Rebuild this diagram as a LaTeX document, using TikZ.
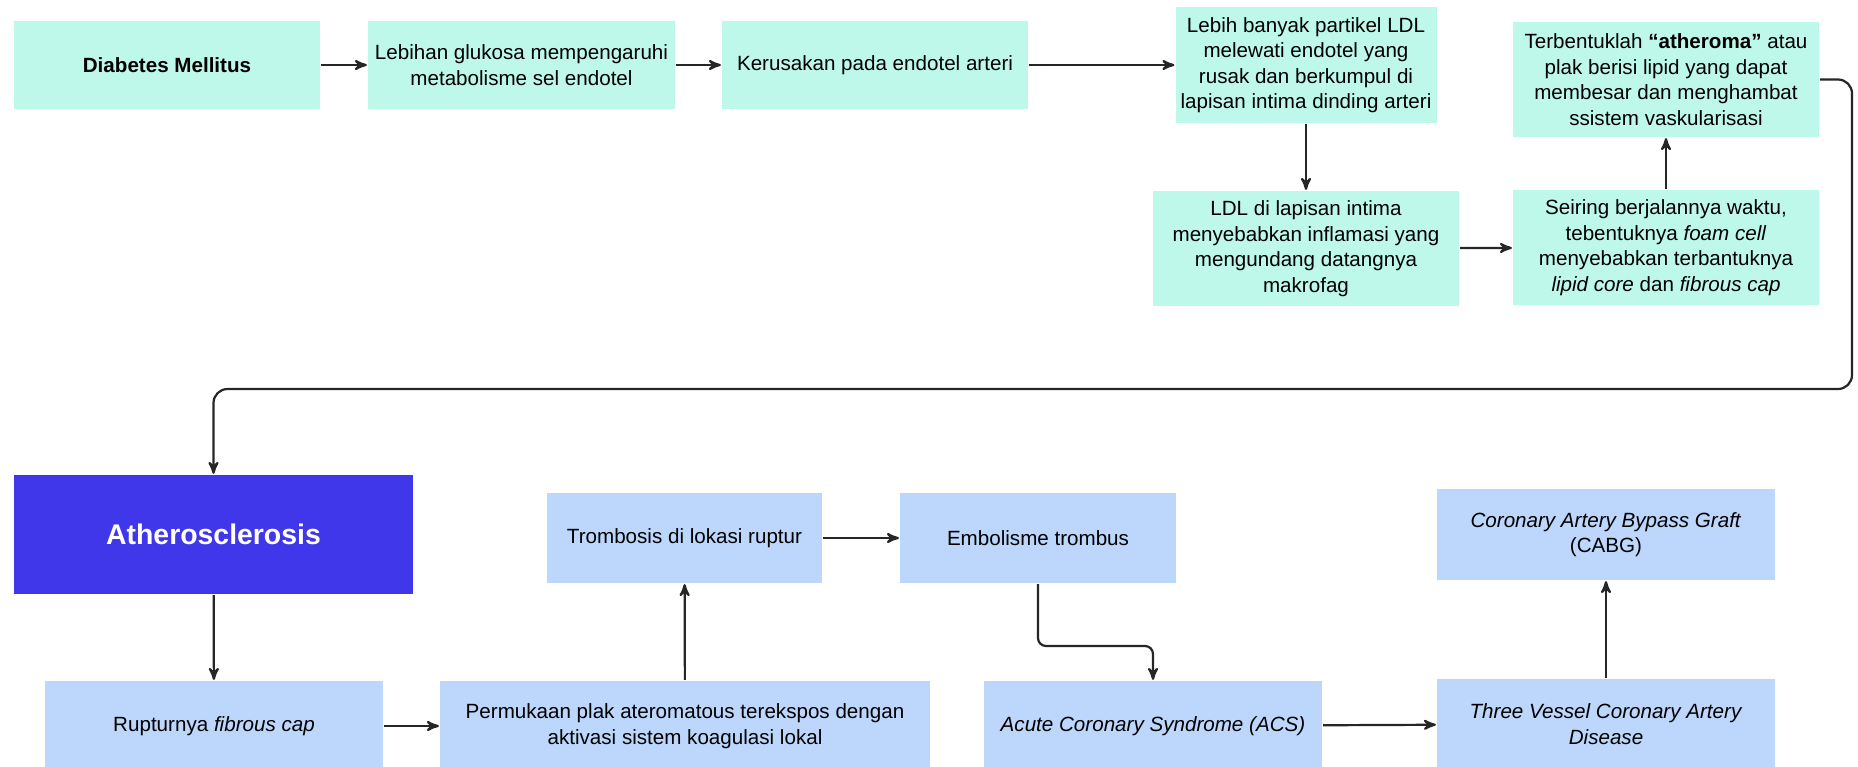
\documentclass[tikz,border=0pt]{standalone}
\usepackage{fontspec}
\setmainfont{Liberation Sans}
\usepackage{tikz}
\usetikzlibrary{arrows}

\definecolor{mint}{HTML}{BEF8EA}
\definecolor{paleblue}{HTML}{BCD6FC}
\definecolor{deepblue}{HTML}{4037EB}
\definecolor{inkgray}{HTML}{262626}

\begin{document}
\begin{tikzpicture}[x=0.5pt,y=-0.5pt,->,>=stealth',shorten >=0pt,line width=1.1pt,draw=inkgray,
    font=\fontsize{10.3}{12.75}\selectfont]
  \tikzstyle{box}=[rectangle,draw=none,inner sep=0pt,align=center,text=black]
  \tikzstyle{mintbox}=[box,fill=mint]
  \tikzstyle{bluebox}=[box,fill=paleblue]
  \useasboundingbox (0,0) rectangle (1858,766);

  % upper chain
  \node[mintbox,minimum width=153pt,minimum height=44pt] (dm) at (167,65) {\textbf{Diabetes Mellitus}};
  \node[mintbox,minimum width=153.5pt,minimum height=44pt] (lg) at (521.5,65) {Lebihan glukosa mempengaruhi\\metabolisme sel endotel};
  \node[mintbox,minimum width=153pt,minimum height=44pt] (ke) at (875,65) {Kerusakan pada endotel arteri};
  \node[mintbox,minimum width=130.5pt,minimum height=58pt] (lb) at (1306,65) {Lebih banyak partikel LDL\\melewati endotel yang\\rusak dan berkumpul di\\lapisan intima dinding arteri};
  \node[mintbox,minimum width=153pt,minimum height=57.5pt] (ld) at (1306,248.5) {LDL di lapisan intima\\menyebabkan inflamasi yang\\mengundang datangnya\\makrofag};
  \node[mintbox,minimum width=153pt,minimum height=57.5pt] (se) at (1666,247.5) {Seiring berjalannya waktu,\\tebentuknya \textit{foam cell}\\menyebabkan terbantuknya\\\textit{lipid core} dan \textit{fibrous cap}};
  \node[mintbox,minimum width=153pt,minimum height=57.5pt] (te) at (1666,79.5) {Terbentuklah \textbf{“atheroma”} atau\\plak berisi lipid yang dapat\\membesar dan menghambat\\ssistem vaskularisasi};

  % lower chain
  \node[box,fill=deepblue,text=white,minimum width=199.5pt,minimum height=59.5pt,
        font=\fontsize{14.2}{17}\selectfont\bfseries] (at) at (213.5,534.5) {Atherosclerosis};
  \node[bluebox,minimum width=169pt,minimum height=45pt] (ru) at (214,726) {Rupturnya \textit{fibrous cap}};
  \node[bluebox,minimum width=245pt,minimum height=45pt] (pe) at (685,726) {Permukaan plak ateromatous terekspos dengan\\aktivasi sistem koagulasi lokal};
  \node[bluebox,minimum width=137.5pt,minimum height=45pt] (tr) at (684.5,538) {Trombosis di lokasi ruptur};
  \node[bluebox,minimum width=138pt,minimum height=45pt] (em) at (1038,538) {Embolisme trombus};
  \node[bluebox,minimum width=169pt,minimum height=45pt] (ac) at (1153,726) {\textit{Acute Coronary Syndrome (ACS)}};
  \node[bluebox,minimum width=169pt,minimum height=45pt] (tv) at (1606,724) {\textit{Three Vessel Coronary Artery}\\\textit{Disease}};
  \node[bluebox,minimum width=169pt,minimum height=45.5pt] (cb) at (1606,534.5) {\textit{Coronary Artery Bypass Graft}\\(CABG)};

  \coordinate (loop) at (1852,389);
  \coordinate (drop) at (1100,646);

  \path (dm) edge (lg)
        (lg) edge (ke)
        (ke) edge (lb)
        (lb) edge (ld)
        (ld) edge (se)
        (se) edge (te)
        (at) edge (ru)
        (ru) edge (pe)
        (pe) edge (tr)
        (tr) edge (em)
        (ac) edge (tv)
        (tv) edge (cb);
  \draw[rounded corners=7pt] (te.east) -| (loop) -| (at.north);
  \draw[rounded corners=4pt] (em.south) |- (drop) -| (ac.north);
\end{tikzpicture}
\end{document}
